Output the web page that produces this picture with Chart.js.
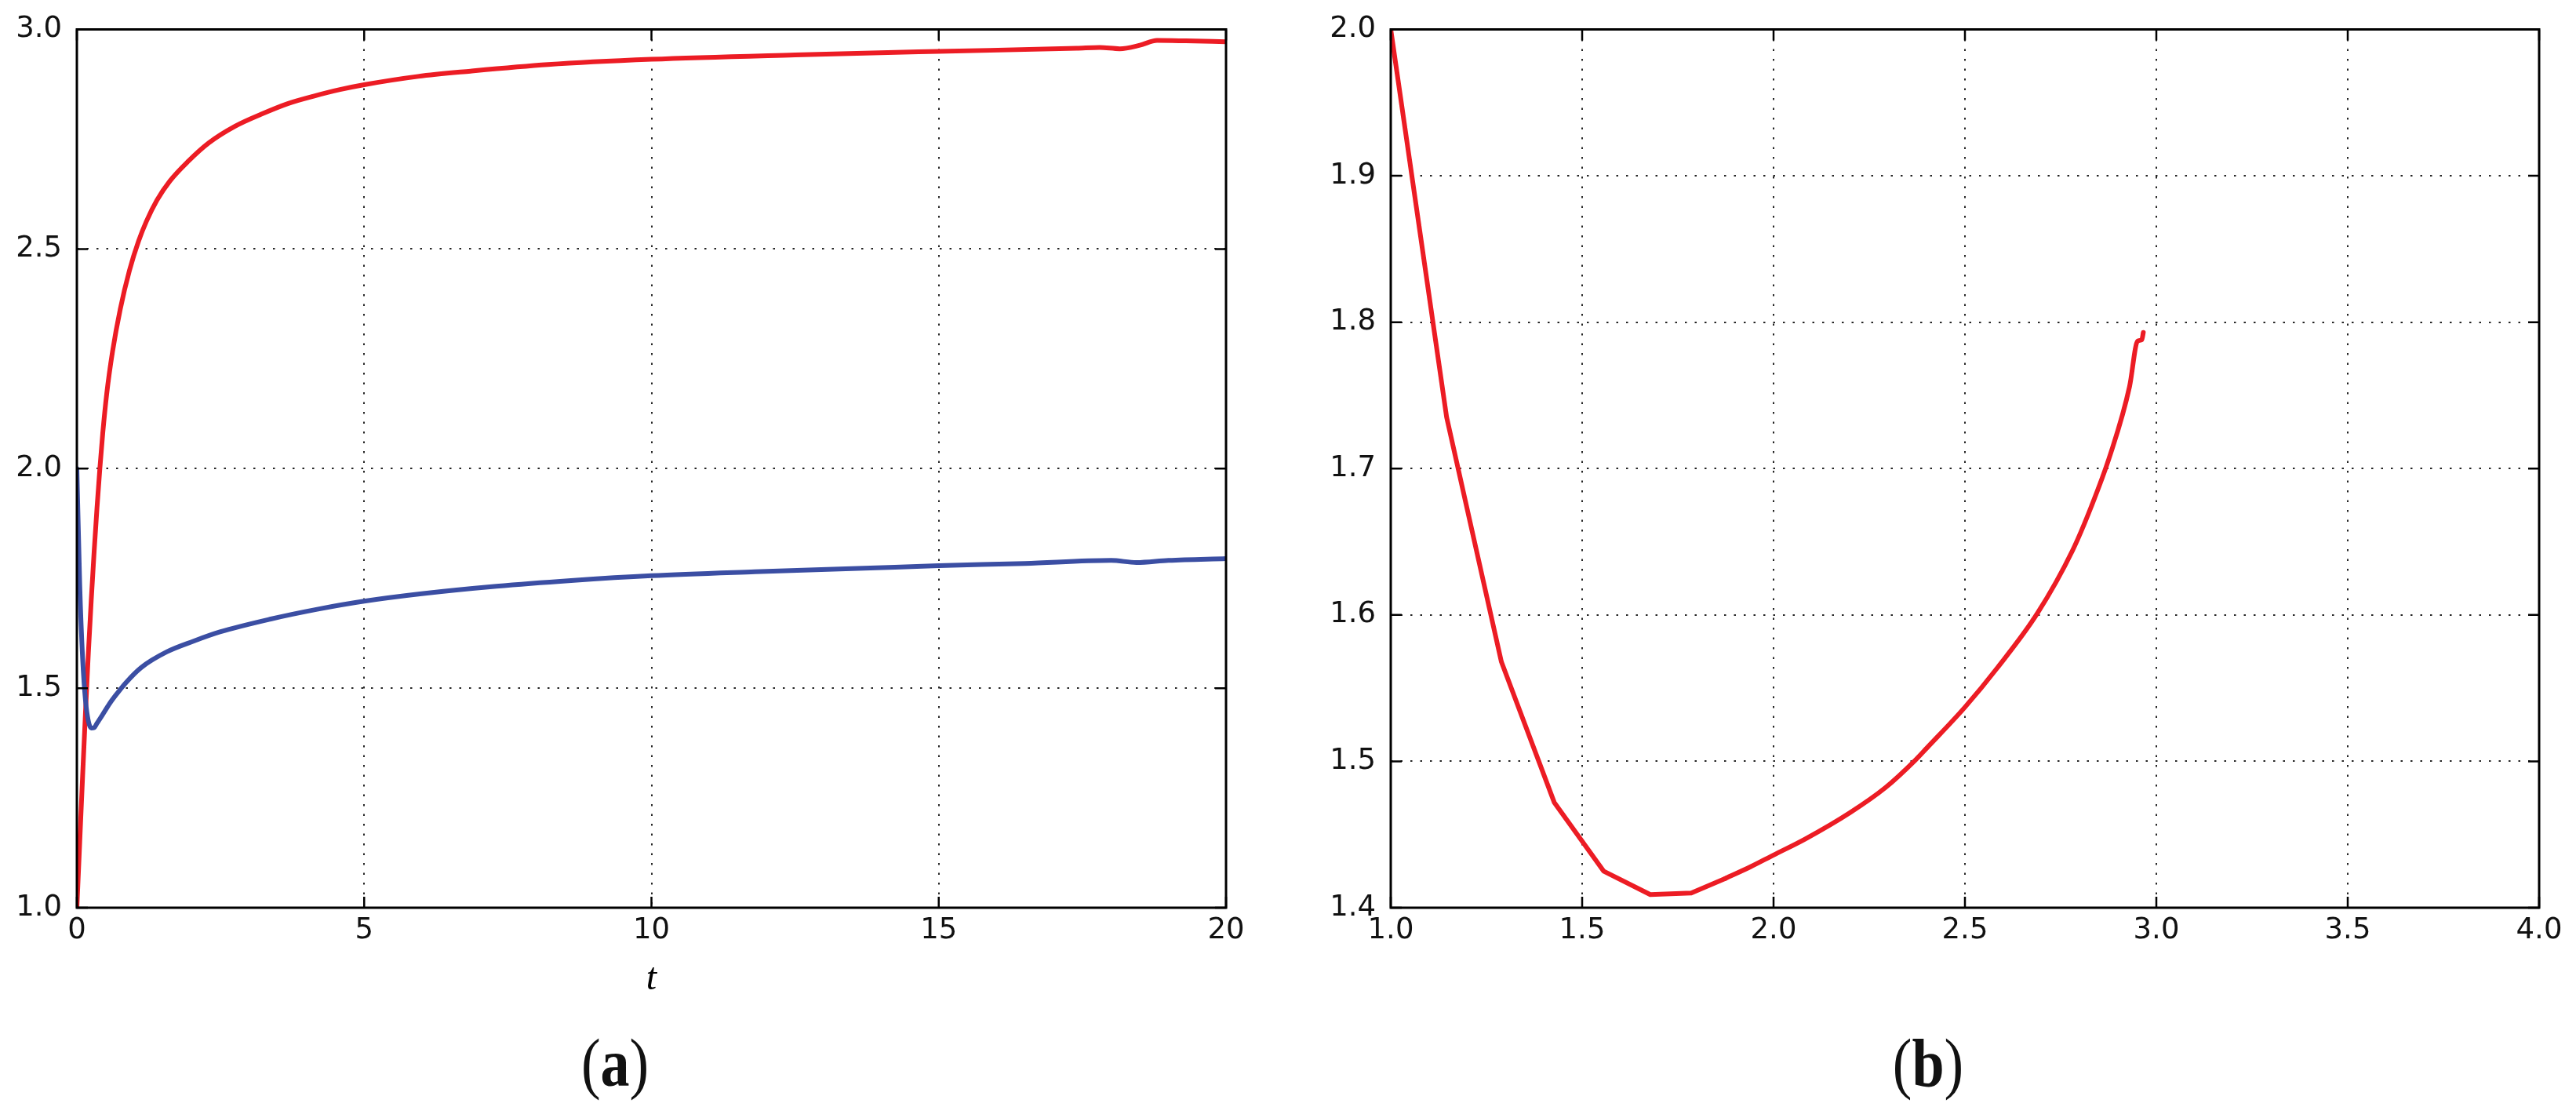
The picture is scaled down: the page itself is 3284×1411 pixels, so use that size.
<!DOCTYPE html>
<html>
<head>
<meta charset="utf-8">
<script src="https://cdn.jsdelivr.net/npm/chart.js@4.4.1/dist/chart.umd.min.js"></script>
<style>
  html, body { margin: 0; padding: 0; background: #fff; }
  body { width: 3284px; height: 1411px; position: relative; overflow: hidden; }
  canvas { position: absolute; top: 0; }
  #chartA { left: 0; }
  #chartB { left: 1675px; }
  .caption {
    position: absolute; top: 1312px; width: 200px; text-align: center;
    font-family: 'Liberation Serif', 'DejaVu Serif', serif; font-size: 86px;
    line-height: 1; color: #111; transform: scaleX(0.86);
  }
</style>
</head>
<body>
<canvas id="chartA" width="1660" height="1300"></canvas>
<canvas id="chartB" width="1609" height="1300"></canvas>
<div class="caption" style="left:684px">(<b>a</b>)</div>
<div class="caption" style="left:2358px">(<b>b</b>)</div>
<script>
// panel (a): both components against time
const redT = [0, 0.05, 0.1, 0.15, 0.2, 0.25, 0.3, 0.35, 0.4, 0.45, 0.52, 0.62, 0.755, 0.915, 1.074,
  1.21, 1.393, 1.62, 1.94, 2.3, 2.76, 3.21, 3.67, 4.12, 4.58, 5.0, 5.94, 6.85, 8.2, 10, 12.5, 15,
  17.4, 17.8, 18.15, 18.5, 18.8, 19.3, 20];
const redV = [1.0, 1.15, 1.3, 1.445, 1.58, 1.7, 1.81, 1.91, 2.0, 2.08, 2.171, 2.266, 2.363, 2.451, 2.518,
  2.563, 2.611, 2.655, 2.7, 2.742, 2.78, 2.807, 2.831, 2.848, 2.863, 2.874, 2.893, 2.905, 2.92, 2.932, 2.942, 2.95,
  2.957, 2.959, 2.956, 2.964, 2.975, 2.974, 2.972];

const blueT = [0, 0.05, 0.1, 0.15, 0.2, 0.25, 0.3, 0.35, 0.44, 0.57, 0.665, 0.85, 1.12, 1.57, 2.03,
  2.49, 3.36, 4.2, 5.0, 6.0, 7.3, 8.6, 10, 11.8, 13.7, 15, 16.5, 18.0, 18.44, 19.0, 20];
const blueV = [2.0, 1.735, 1.568, 1.472, 1.425, 1.409, 1.41, 1.42, 1.438, 1.465, 1.482, 1.512, 1.547, 1.583, 1.607,
  1.628, 1.657, 1.68, 1.698, 1.715, 1.732, 1.745, 1.756, 1.765, 1.773, 1.779, 1.784, 1.791, 1.786, 1.791, 1.795];

// panel (b): phase curve; the first few samples are joined by straight segments
const phaseX = [1.0, 1.146, 1.289, 1.427, 1.556, 1.678, 1.785, 1.874, 1.94, 2.0, 2.083, 2.2, 2.292,
  2.371, 2.4, 2.5, 2.585, 2.689, 2.781, 2.83, 2.879, 2.93, 2.951, 2.962, 2.966];
const phaseY = [2.0, 1.735, 1.568, 1.472, 1.425, 1.409, 1.41, 1.42, 1.428, 1.436, 1.447, 1.465, 1.482,
  1.501, 1.509, 1.537, 1.564, 1.601, 1.644, 1.674, 1.709, 1.756, 1.787, 1.788, 1.793];
const phaseKinks = 7;

const tTicks = [0, 5, 10, 15, 20];
const aYTicks = [1.0, 1.5, 2.0, 2.5, 3.0];
const bXTicks = [1.0, 1.5, 2.0, 2.5, 3.0, 3.5, 4.0];
const bYTicks = [1.4, 1.5, 1.6, 1.7, 1.8, 1.9, 2.0];

const RED = '#ec1c24';
const BLUE = '#3b4ea3';

const pts = (xs, ys) => xs.map((x, i) => ({ x: x, y: ys[i] }));

// frame on all four sides plus inward tick marks, matplotlib style
const framePlugin = {
  id: 'frame',
  afterDatasetsDraw(chart) {
    const { ctx, chartArea: a, scales } = chart;
    const len = 14;
    ctx.save();
    ctx.strokeStyle = '#000';
    ctx.lineWidth = 2.5;
    ctx.beginPath();
    scales.x.ticks.forEach(t => {
      const px = scales.x.getPixelForValue(t.value);
      ctx.moveTo(px, a.bottom); ctx.lineTo(px, a.bottom - len);
      ctx.moveTo(px, a.top); ctx.lineTo(px, a.top + len);
    });
    scales.y.ticks.forEach(t => {
      const py = scales.y.getPixelForValue(t.value);
      ctx.moveTo(a.left, py); ctx.lineTo(a.left + len, py);
      ctx.moveTo(a.right, py); ctx.lineTo(a.right - len, py);
    });
    ctx.stroke();
    ctx.lineWidth = 3;
    ctx.strokeRect(a.left, a.top, a.right - a.left, a.bottom - a.top);
    ctx.restore();
  }
};

function axis(min, max, ticks, fmt, size, pad, title) {
  return {
    type: 'linear',
    min: min,
    max: max,
    afterBuildTicks: s => { s.ticks = ticks.map(v => ({ value: v })); },
    afterFit: s => {
      if (s.isHorizontal()) s.height = size; else s.width = size;
    },
    grid: { color: 'rgba(0,0,0,0.85)', lineWidth: 2, drawTicks: false },
    border: { display: false, dash: [2.5, 10] },
    ticks: {
      padding: pad,
      color: '#111',
      font: { family: 'DejaVu Sans', size: 37, lineHeight: 1 },
      callback: v => fmt(v)
    },
    title: title || { display: false }
  };
}

function lineSet(data, color, smooth) {
  return {
    data: data,
    showLine: true,
    borderColor: color,
    backgroundColor: color,
    borderWidth: 6,
    pointRadius: 0,
    borderJoinStyle: 'round',
    borderCapStyle: 'round',
    cubicInterpolationMode: smooth ? 'monotone' : 'default',
    tension: 0
  };
}

const common = {
  responsive: false,
  animation: false,
  devicePixelRatio: 1,
  plugins: { legend: { display: false }, tooltip: { enabled: false } },
  events: []
};

new Chart(document.getElementById('chartA'), {
  type: 'scatter',
  data: {
    datasets: [
      lineSet(pts(blueT, blueV), BLUE, true),
      lineSet(pts(redT, redV), RED, true)
    ]
  },
  options: Object.assign({}, common, {
    layout: { padding: { top: 35, right: 97, left: 0, bottom: 0 } },
    scales: {
      x: axis(0, 20, tTicks, v => String(v), 143, 11, {
        display: true,
        text: 't',
        color: '#000',
        font: { family: 'Liberation Serif', style: 'italic', size: 48, lineHeight: 1 },
        padding: { top: 0, bottom: 28 }
      }),
      y: axis(1, 3, aYTicks, v => v.toFixed(1), 98, 19)
    }
  }),
  plugins: [framePlugin]
});

new Chart(document.getElementById('chartB'), {
  type: 'scatter',
  data: {
    datasets: [
      lineSet(pts(phaseX.slice(0, phaseKinks + 1), phaseY.slice(0, phaseKinks + 1)), RED, false),
      lineSet(pts(phaseX.slice(phaseKinks), phaseY.slice(phaseKinks)), RED, true)
    ]
  },
  options: Object.assign({}, common, {
    layout: { padding: { top: 35, right: 47, left: 0, bottom: 0 } },
    scales: {
      x: axis(1, 4, bXTicks, v => v.toFixed(1), 143, 11),
      y: axis(1.4, 2.0, bYTicks, v => v.toFixed(1), 98, 19)
    }
  }),
  plugins: [framePlugin]
});
</script>
</body>
</html>
